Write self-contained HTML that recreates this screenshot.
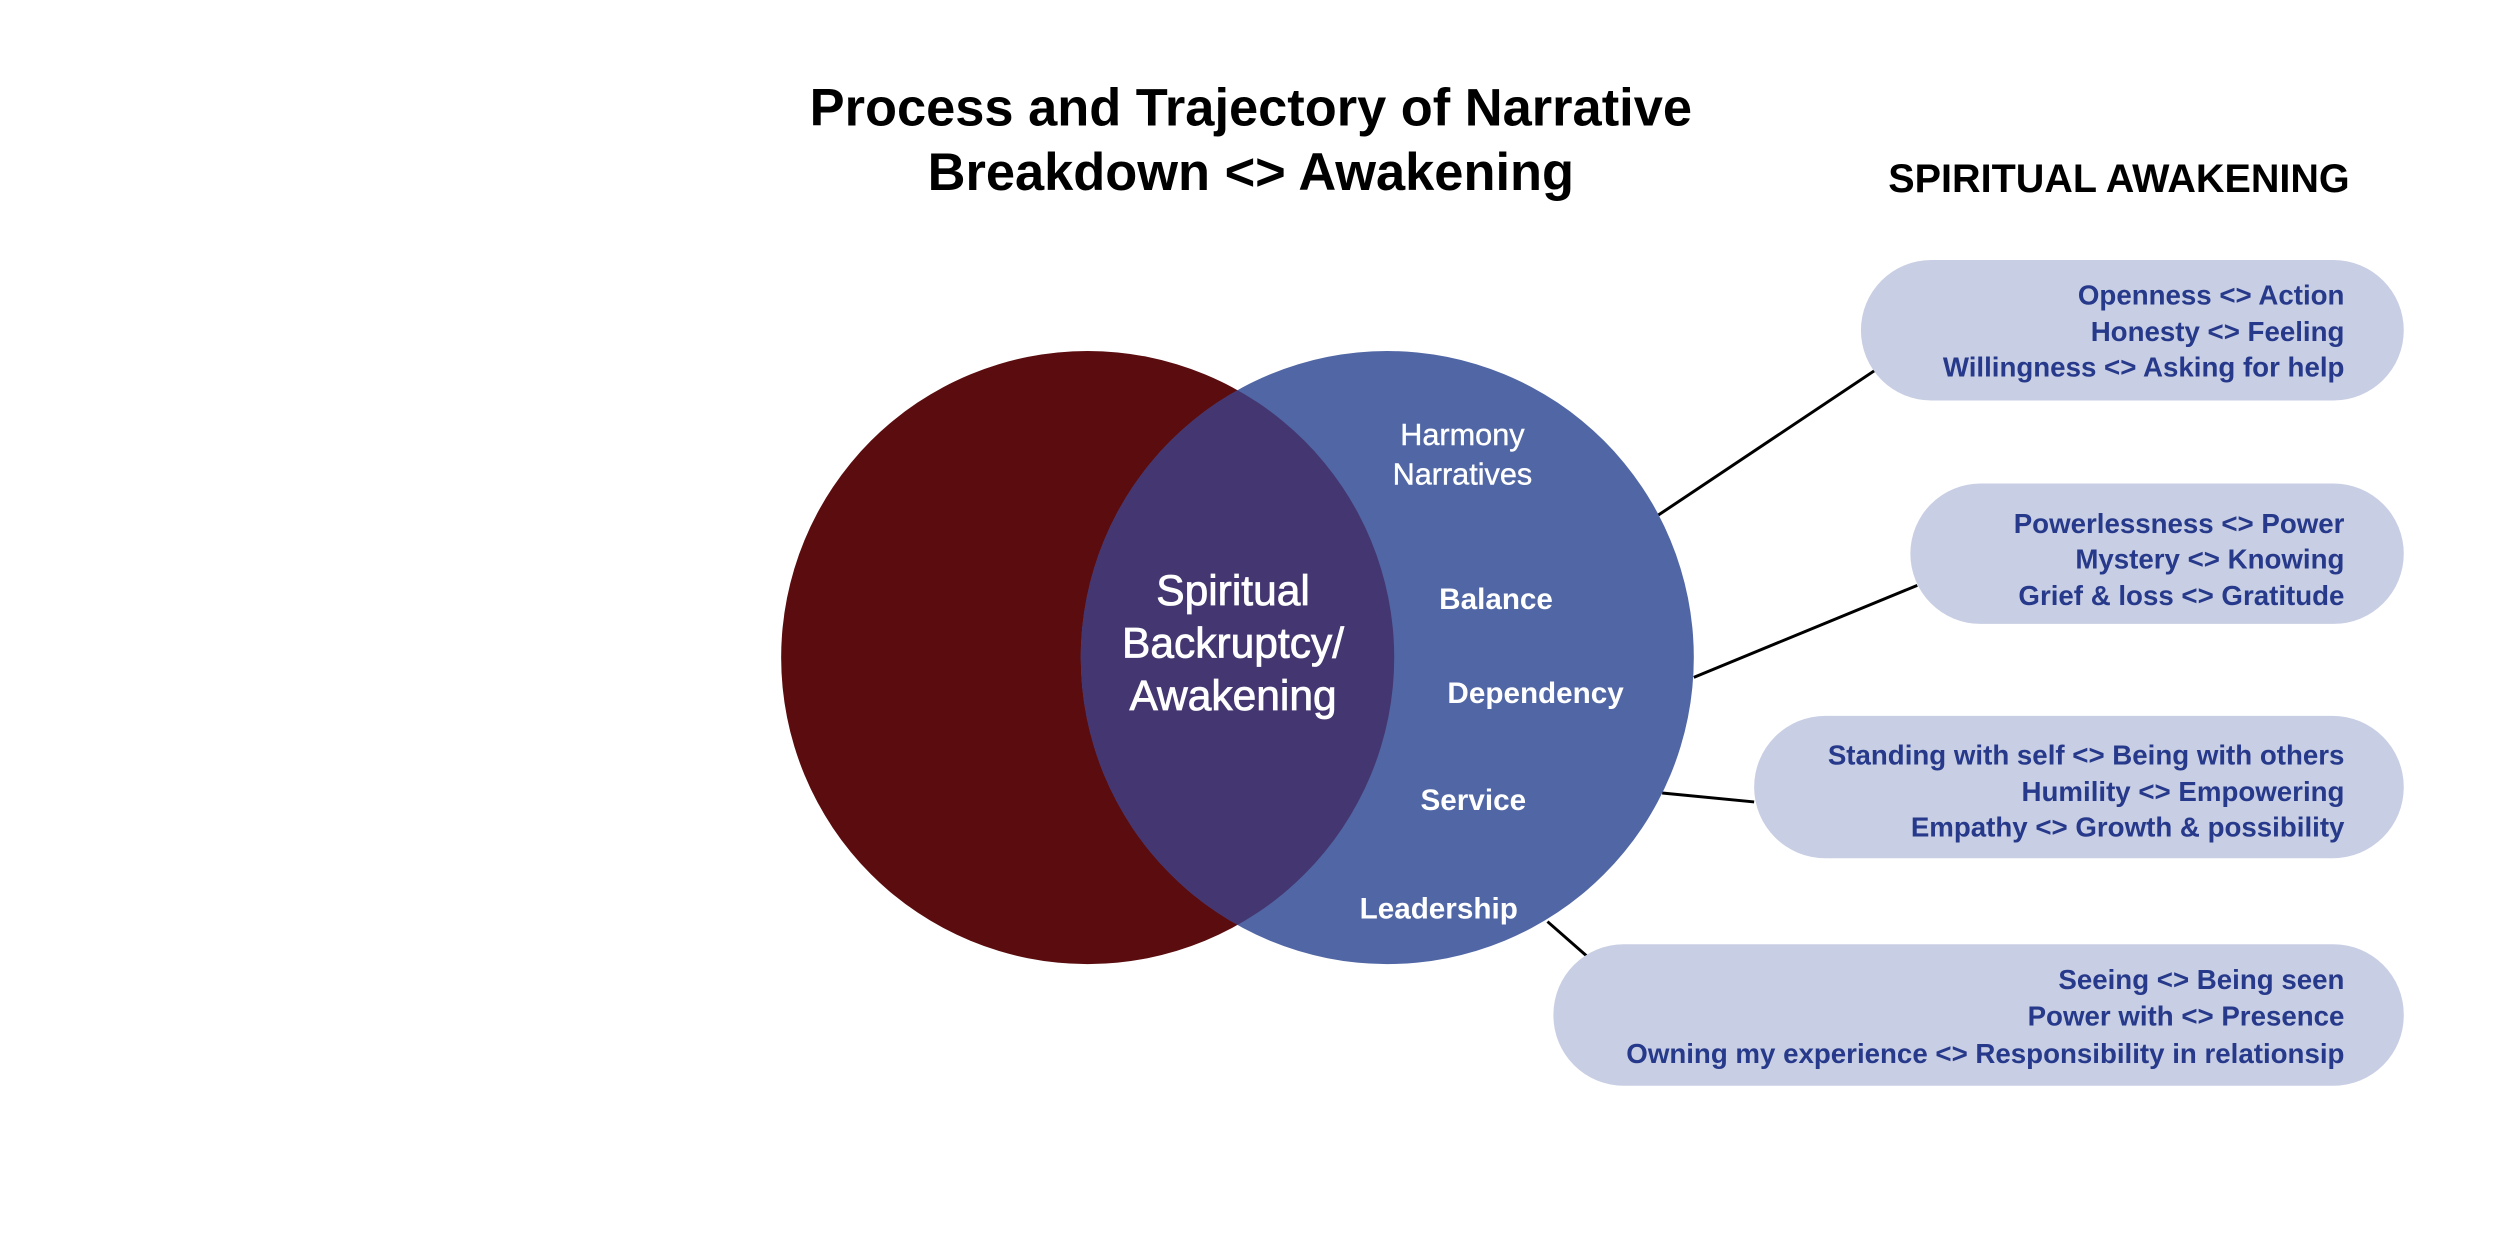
<!DOCTYPE html>
<html><head><meta charset="utf-8"><style>
html,body{margin:0;padding:0;background:#fff;width:2500px;height:1250px;overflow:hidden}
svg{display:block}
text{font-family:"Liberation Sans",sans-serif}
</style></head><body>
<svg width="2500" height="1250" viewBox="0 0 2500 1250" xmlns="http://www.w3.org/2000/svg">
<defs>
<clipPath id="cr"><circle cx="1100" cy="665" r="310"/></clipPath>
</defs>
<g transform="scale(0.9888)">
<text x="1265" y="127" font-size="53" font-weight="bold" text-anchor="middle" fill="#000">Process and Trajectory of Narrative</text>
<text x="1265" y="192" font-size="53" font-weight="bold" text-anchor="middle" fill="#000">Breakdown &lt;&gt; Awakening</text>
<text x="2143" y="194" font-size="40" font-weight="bold" text-anchor="middle" fill="#000">SPIRITUAL AWAKENING</text>

<g stroke="#000" stroke-width="3">
<line x1="1677" y1="521" x2="1897" y2="374"/>
<line x1="1713" y1="685" x2="1939" y2="592"/>
<line x1="1681" y1="802" x2="1774" y2="811"/>
<line x1="1565" y1="932" x2="1606" y2="968"/>
</g>

<circle cx="1100" cy="665" r="310" fill="#5a0c0e"/>
<circle cx="1403" cy="665" r="310" fill="#5066a5"/>
<circle cx="1403" cy="665" r="310" fill="#443670" clip-path="url(#cr)"/>

<g fill="#fff" text-anchor="middle">
<text x="1247" y="612" font-size="43" stroke="#fff" stroke-width="0.8">Spiritual</text>
<text x="1247" y="665" font-size="43" stroke="#fff" stroke-width="0.8">Backruptcy/</text>
<text x="1247" y="718" font-size="43" stroke="#fff" stroke-width="0.8">Awakening</text>
<text x="1479" y="450" font-size="31" stroke="#fff" stroke-width="0.4">Harmony</text>
<text x="1479" y="490" font-size="31" stroke="#fff" stroke-width="0.4">Narratives</text>
<text x="1513" y="616" font-size="30" font-weight="bold">Balance</text>
<text x="1553" y="711" font-size="30" font-weight="bold">Dependency</text>
<text x="1490" y="819" font-size="30" font-weight="bold">Service</text>
<text x="1455" y="929" font-size="30" font-weight="bold">Leadership</text>
</g>

<g fill="#c8cee3">
<rect x="1882" y="263" width="549" height="142" rx="71"/>
<rect x="1932" y="489" width="499" height="142" rx="71"/>
<rect x="1774" y="724" width="657" height="144" rx="72"/>
<rect x="1571" y="955" width="860" height="143" rx="71"/>
</g>
<g fill="#26398a" font-size="28" font-weight="bold" text-anchor="end">
<text x="2371" y="308">Openness &lt;&gt; Action</text>
<text x="2371" y="345">Honesty &lt;&gt; Feeling</text>
<text x="2371" y="381">Willingness &lt;&gt; Asking for help</text>
<text x="2371" y="539">Powerlessness &lt;&gt; Power</text>
<text x="2371" y="575">Mystery &lt;&gt; Knowing</text>
<text x="2371" y="612">Grief &amp; loss &lt;&gt; Gratitude</text>
<text x="2371" y="773">Standing with self &lt;&gt; Being with others</text>
<text x="2371" y="810">Humility &lt;&gt; Empowering</text>
<text x="2371" y="846">Empathy &lt;&gt; Growth &amp; possibility</text>
<text x="2371" y="1000">Seeing &lt;&gt; Being seen</text>
<text x="2371" y="1037">Power with &lt;&gt; Presence</text>
<text x="2371" y="1075">Owning my experience &lt;&gt; Responsibility in relationsip</text>
</g>
</g>
</svg>
</body></html>
